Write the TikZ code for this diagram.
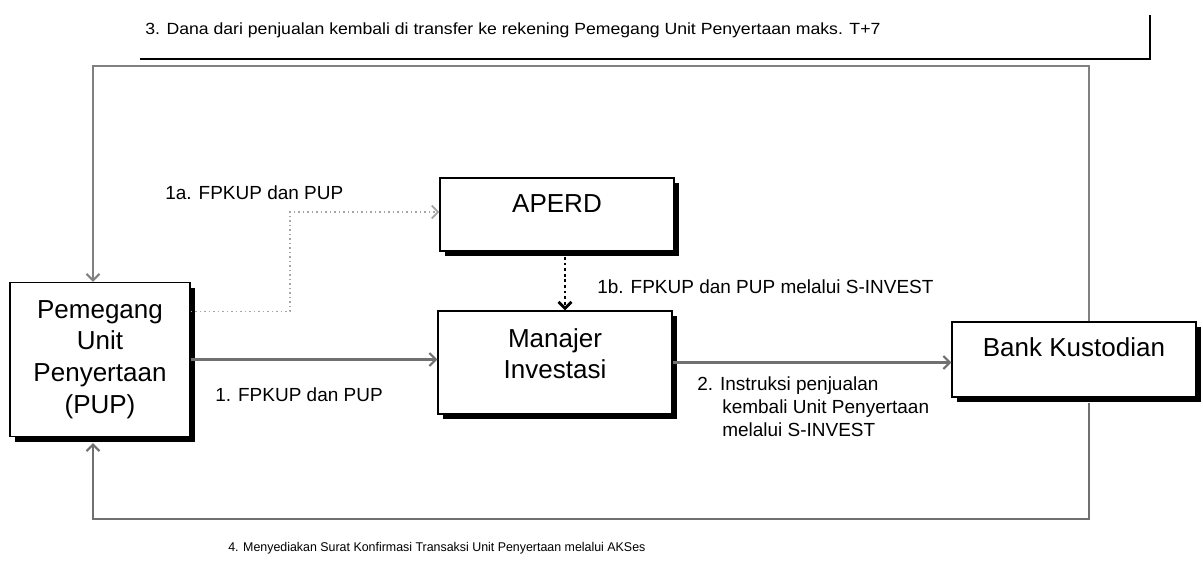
\documentclass[tikz,border=0pt]{standalone}
\usepackage{fontspec}
\setmainfont{Liberation Sans}
\usepackage{graphicx}
\usepackage{xcolor}
\usetikzlibrary{shapes,arrows.meta,positioning,shadows,calc}

\definecolor{linegray}{RGB}{112,112,112}
\definecolor{dotgray}{RGB}{165,165,165}

\begin{document}
\begin{tikzpicture}[x=0.025cm, y=-0.025cm,
        party/.style={
                draw,
                fill=white,
                line width=1pt,
                align=center,
                inner sep=0pt,
                font=\fontsize{18.5}{22.5}\selectfont,
                drop shadow={shadow xshift=0.13cm, shadow yshift=-0.13cm, opacity=1, fill=black},
        },
        flow/.style={draw=linegray, line width=1.5pt, -{Straight Barb[length=1.6mm, width=3.2mm]}},
        note/.style={anchor=west, inner sep=0pt, align=left, font=\fontsize{13.5}{16.5}\selectfont}]
    \useasboundingbox (0,0) rectangle (1203,563);

    % parties
    \node[party, minimum width=4.5cm, minimum height=3.85cm] (pup) at (100,359.5) {Pemegang\\Unit\\Penyertaan\\(PUP)};
    \node[party, minimum width=5.85cm, minimum height=1.825cm, text depth=0.55cm] (aperd) at (557,214.5) {APERD};
    \node[party, minimum width=5.85cm, minimum height=2.575cm, text depth=0.45cm] (mi) at (555,362.5) {Manajer\\Investasi};
    \node[party, minimum width=6.1cm, minimum height=1.875cm, text depth=0.6cm] (bank) at (1074,359.5) {Bank Kustodian};

    % bend points
    \coordinate (pupTop) at ([xshift=-0.175cm]pup.north);
    \coordinate (pupBot) at ([xshift=-0.175cm]pup.south);
    \coordinate (bankTop) at ([xshift=0.375cm]bank.north);
    \coordinate (bankBot) at ([xshift=0.375cm]bank.south);
    \coordinate (aperdBot) at ([xshift=0.2cm]aperd.south);
    \coordinate (pupOut) at ([yshift=1.2cm]pup.east);
    \coordinate (bend1a) at (290,212);

    % flows
    \draw[flow] (pup.east) -- (pup.east -| mi.west);
    \draw[flow] (mi.east) -- (mi.east -| bank.west);
    \draw[flow, draw=dotgray, line width=1.2pt, dotted] (pupOut) -| (bend1a) -- (bend1a -| aperd.west);
    \draw[flow, draw=black, line width=2pt, dotted] ([yshift=-0.13cm]aperdBot) -- (aperdBot |- mi.north);
    \draw[flow, draw=gray] (bankTop) -- (bankTop |- 0,66) -- (pupTop |- 0,66) -- (pupTop);
    \draw[flow, shorten >=0.15cm] ([yshift=-0.13cm]bankBot) -- (bankBot |- 0,519) -- (pupBot |- 0,519) -- (pupBot);

    % frame of note 3
    \coordinate (frameL) at (140,59);
    \coordinate (frameR) at (1150,59);
    \coordinate (frameT) at (1150,15);
    \draw[line width=1pt] (frameL) -- (frameR) -- (frameT);

    % notes
    \node[note] (n3) at (145,30) {\fontsize{11.5}{14}\selectfont\resizebox{18.375cm}{\height}{3. Dana dari penjualan kembali di transfer ke rekening Pemegang Unit Penyertaan maks. T+7}};
    \node[note] (n1a) at (165,193) {1a. FPKUP dan PUP};
    \node[note] (n1b) at (597,287) {1b. FPKUP dan PUP melalui S-INVEST};
    \node[note] (n1) at (215,395) {1. FPKUP dan PUP};
    \node[note, anchor=north west] (n2) at (697,376) {2. Instruksi penjualan\\\hspace*{0.625cm}kembali Unit Penyertaan\\\hspace*{0.625cm}melalui S-INVEST};
    \node[note] (n4) at (228,548) {\fontsize{9}{11}\selectfont\resizebox{10.425cm}{\height}{4. Menyediakan Surat Konfirmasi Transaksi Unit Penyertaan melalui AKSes}};
\end{tikzpicture}
\end{document}
